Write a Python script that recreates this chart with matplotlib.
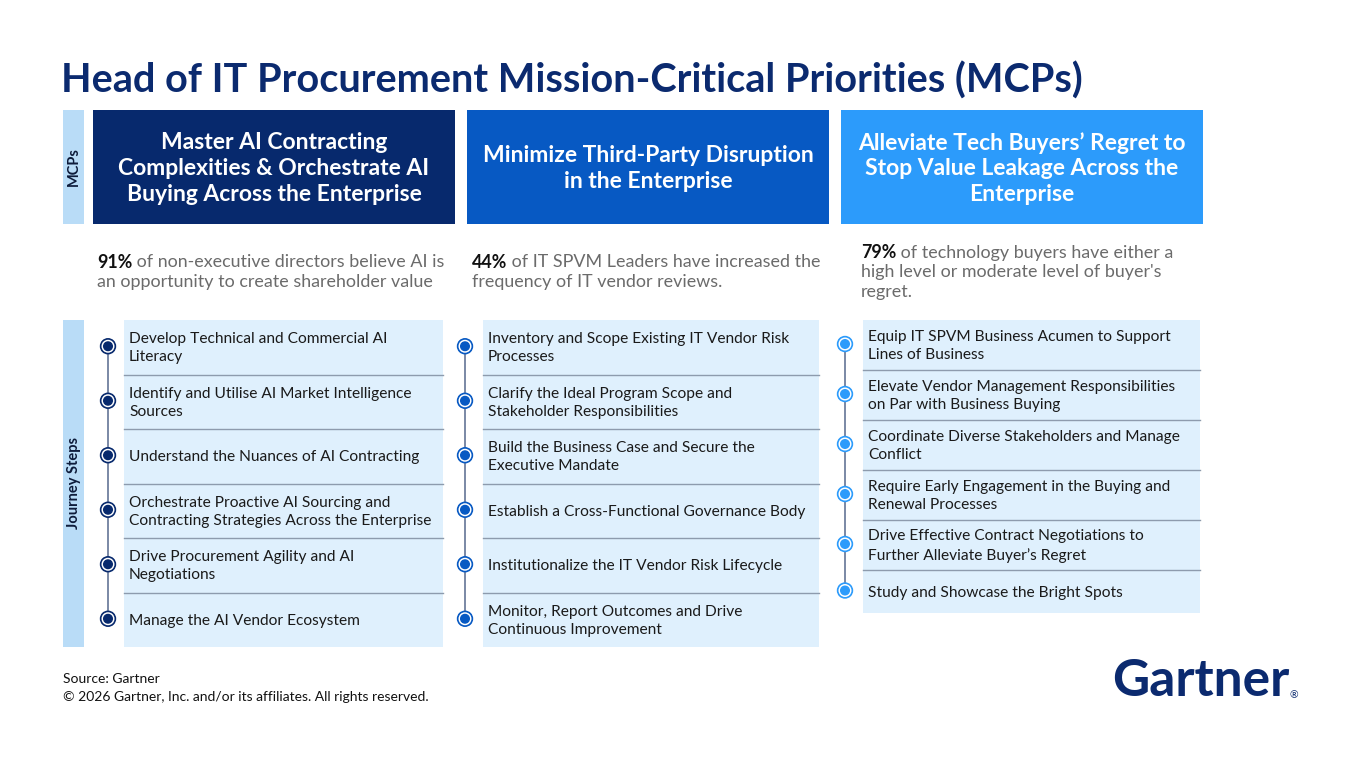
import matplotlib
matplotlib.use('Agg')
import matplotlib.pyplot as plt
from matplotlib.patches import Rectangle, Circle

plt.rcParams['font.family'] = ['Lato', 'DejaVu Sans']

# ---- content ----
title = "Head of IT Procurement Mission-Critical Priorities (MCPs)"

mcp_titles = [
    "Master AI Contracting\nComplexities & Orchestrate AI\nBuying Across the Enterprise",
    "Minimize Third-Party Disruption\nin the Enterprise",
    "Alleviate Tech Buyers\u2019 Regret to\nStop Value Leakage Across the\nEnterprise",
]

stat_pct = ["91%", "44%", "79%"]
stat_rest = [
    [" of non-executive directors believe AI is", "an opportunity to create shareholder value"],
    [" of IT SPVM Leaders have increased the", "frequency of IT vendor reviews."],
    [" of technology buyers have either a", "high level or moderate level of buyer's", "regret."],
]

steps_ai = [
    "Develop Technical and Commercial AI\nLiteracy",
    "Identify and Utilise AI Market Intelligence\nSources",
    "Understand the Nuances of AI Contracting",
    "Orchestrate Proactive AI Sourcing and\nContracting Strategies Across the Enterprise",
    "Drive Procurement Agility and AI\nNegotiations",
    "Manage the AI Vendor Ecosystem",
]
steps_third_party = [
    "Inventory and Scope Existing IT Vendor Risk\nProcesses",
    "Clarify the Ideal Program Scope and\nStakeholder Responsibilities",
    "Build the Business Case and Secure the\nExecutive Mandate",
    "Establish a Cross-Functional Governance Body",
    "Institutionalize the IT Vendor Risk Lifecycle",
    "Monitor, Report Outcomes and Drive\nContinuous Improvement",
]
steps_regret = [
    "Equip IT SPVM Business Acumen to Support\nLines of Business",
    "Elevate Vendor Management Responsibilities\non Par with Business Buying",
    "Coordinate Diverse Stakeholders and Manage\nConflict",
    "Require Early Engagement in the Buying and\nRenewal Processes",
    "Drive Effective Contract Negotiations to\nFurther Alleviate Buyer\u2019s Regret",
    "Study and Showcase the Bright Spots",
]
steps = [steps_ai, steps_third_party, steps_regret]

source_lines = ["Source: Gartner",
                "\u00a9 2026 Gartner, Inc. and/or its affiliates. All rights reserved."]

# ---- style / layout (pixel coordinates) ----
navy = '#0b2a6f'
col_colors = ['#07296d', '#0759c3', '#2c9bfb']
strip_color = '#b9dcf7'
cell_color = '#dff0fd'
sep_color = '#8d9bad'

header_x = [93, 467, 841]
header_w = 362
stat_x = [97, 472, 861]
stat_y0 = [262, 262, 253]
bullet_x = [108, 465, 845]
cell_x0 = [124, 483, 863]
cell_x1 = [443, 819, 1200]
row_edges = [
    [320, 374.5, 429, 483.5, 538, 592.5, 647],
    [320, 374.5, 429, 483.5, 538, 592.5, 647],
    [320, 370, 420, 470, 520, 570, 613],
]

fig = plt.figure(figsize=(13.6, 7.66), dpi=100)
ax = fig.add_axes([0, 0, 1, 1])
ax.set_xlim(0, 1360)
ax.set_ylim(766, 0)
ax.axis('off')

ax.text(61, 81, title, fontsize=28.5, fontweight='bold', color=navy,
        ha='left', va='center')

# side labels
ax.add_patch(Rectangle((63, 110), 21, 114, color=strip_color, lw=0))
ax.text(74, 167, "MCPs", rotation=90, fontsize=10.5, fontweight='bold',
        color='#0d1b3a', ha='center', va='center')
ax.add_patch(Rectangle((63, 320), 21, 327, color=strip_color, lw=0))
ax.text(74, 483, "Journey Steps", rotation=90, fontsize=10.5, fontweight='bold',
        color='#0d1b3a', ha='center', va='center')

for i in range(3):
    # header box
    ax.add_patch(Rectangle((header_x[i], 110), header_w, 114,
                           color=col_colors[i], lw=0))
    ax.text(header_x[i] + header_w / 2, 168.5, mcp_titles[i], fontsize=16.5,
            fontweight='bold', color='white', ha='center', va='center',
            linespacing=1.27)

    # statistic
    for j, line in enumerate(stat_rest[i]):
        y = stat_y0[i] + j * 19.5
        if j == 0:
            t = ax.text(stat_x[i], y, stat_pct[i], fontsize=12.9,
                        fontweight='bold', color='#111111', ha='left', va='center')
            ax.annotate(line, xy=(1, 0.5), xycoords=t, fontsize=12.9,
                        color='#6b6b6b', ha='left', va='center')
        else:
            ax.text(stat_x[i], y, line, fontsize=12.9, color='#6b6b6b',
                    ha='left', va='center')

    # step cells
    edges = row_edges[i]
    for k, label in enumerate(steps[i]):
        top, bot = edges[k], edges[k + 1]
        ax.add_patch(Rectangle((cell_x0[i], top), cell_x1[i] - cell_x0[i],
                               bot - top, color=cell_color, lw=0))
        if k > 0:
            ax.plot([cell_x0[i], cell_x1[i]], [top, top], color=sep_color, lw=1)
        ax.text(cell_x0[i] + 5, (top + bot) / 2 + 1, label, fontsize=11.2,
                color='#1a1a1a', ha='left', va='center', linespacing=1.35)

    centers = [(edges[k] + edges[k + 1]) / 2 - 1 for k in range(len(steps[i]))]
    ax.plot([bullet_x[i], bullet_x[i]], [centers[0], centers[-1]],
            color='#6f7f9e', lw=1.3, zorder=2)
    for c in centers:
        ax.add_patch(Circle((bullet_x[i], c), 7.5, color=col_colors[i], zorder=3))
        ax.add_patch(Circle((bullet_x[i], c), 5.8, color='white', zorder=4))
        ax.add_patch(Circle((bullet_x[i], c), 4.3, color=col_colors[i], zorder=5))

# footer
for j, line in enumerate(source_lines):
    ax.text(63, 679 + j * 18, line, fontsize=10, color='#111111',
            ha='left', va='center')

t = ax.text(1112, 682, "Gartner", fontsize=37, fontweight='bold', color=navy,
            ha='left', va='center')
ax.annotate("\u00ae", xy=(1, 0.22), xycoords=t, fontsize=7.5, color=navy,
            ha='left', va='center')

fig.savefig('out.png', dpi=100)
